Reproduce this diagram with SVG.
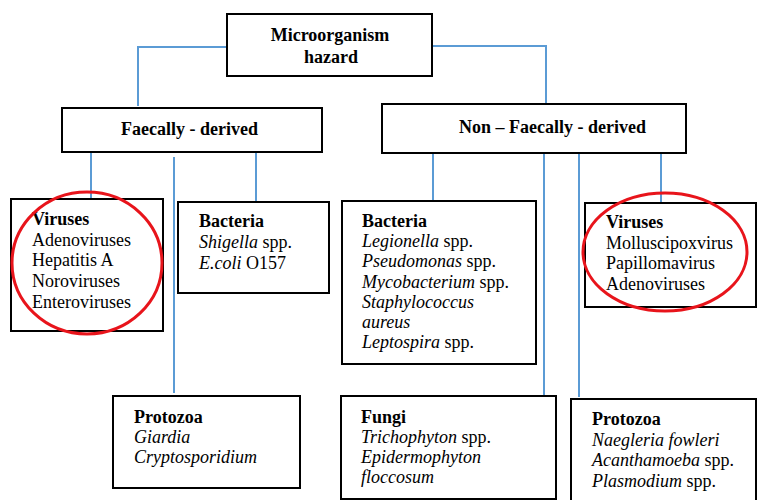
<svg xmlns="http://www.w3.org/2000/svg" width="757" height="500" viewBox="0 0 757 500">
<style>
.box{fill:#fff;stroke:#000;stroke-width:2}
.c{fill:none;stroke:#5B9BD5;stroke-width:2}
.t{font-family:"Liberation Serif","Times New Roman",serif;font-size:18px;fill:#000}
.b{font-weight:bold}
.i{font-style:italic}
.ring{fill:none;stroke:#E8141B;stroke-width:3}
</style>
<rect width="757" height="500" fill="#fff"/>
<g id="connectors">
<polyline class="c" points="227,47 138,47 138,106"/>
<polyline class="c" points="432,46 546,46 546,104"/>
<line class="c" x1="91" y1="153" x2="91" y2="199"/>
<line class="c" x1="174" y1="157" x2="174" y2="393"/>
<line class="c" x1="256" y1="153" x2="256" y2="202"/>
<line class="c" x1="433" y1="153" x2="433" y2="201"/>
<line class="c" x1="544" y1="151" x2="544" y2="396"/>
<line class="c" x1="579" y1="151" x2="579" y2="397"/>
<line class="c" x1="661" y1="153" x2="661" y2="203"/>
</g>
<g id="root">
<rect class="box" x="227" y="14" width="205" height="62"/>
<text class="t b" x="330" y="41" text-anchor="middle">Microorganism</text>
<text class="t b" x="331" y="63" text-anchor="middle">hazard</text>
</g>
<g id="faecal">
<rect class="box" x="62" y="108" width="260" height="44"/>
<text class="t b" x="121" y="135">Faecally - derived</text>
</g>
<g id="nonfaecal">
<rect class="box" x="382" y="104" width="304" height="49"/>
<text class="t b" x="459" y="133">Non – Faecally - derived</text>
</g>
<g id="viruses1">
<rect class="box" x="11" y="199" width="152" height="132"/>
<text class="t" x="32" y="225"><tspan class="b">Viruses</tspan><tspan x="32" dy="20.7">Adenoviruses</tspan><tspan x="32" dy="20.7">Hepatitis A</tspan><tspan x="32" dy="20.7">Noroviruses</tspan><tspan x="32" dy="20.7">Enteroviruses</tspan></text>
<ellipse class="ring" cx="87" cy="263" rx="75" ry="71"/>
</g>
<g id="bacteria1">
<rect class="box" x="178" y="202" width="151" height="91"/>
<text class="t" x="199" y="227"><tspan class="b">Bacteria</tspan><tspan x="199" dy="21"><tspan class="i">Shigella</tspan> spp.</tspan><tspan x="199" dy="21"><tspan class="i">E.coli</tspan> O157</tspan></text>
</g>
<g id="protozoa1">
<rect class="box" x="113" y="396" width="187" height="92"/>
<text class="t" x="134" y="423"><tspan class="b">Protozoa</tspan><tspan class="i" x="134" dy="20">Giardia</tspan><tspan class="i" x="134" dy="20">Cryptosporidium</tspan></text>
</g>
<g id="bacteria2">
<rect class="box" x="342" y="201" width="194" height="163"/>
<text class="t" x="362" y="227"><tspan class="b">Bacteria</tspan><tspan x="362" dy="20.2"><tspan class="i">Legionella</tspan> spp.</tspan><tspan x="362" dy="20.2"><tspan class="i">Pseudomonas</tspan> spp.</tspan><tspan x="362" dy="20.2"><tspan class="i">Mycobacterium</tspan> spp.</tspan><tspan class="i" x="362" dy="20.2">Staphylococcus</tspan><tspan class="i" x="362" dy="20.2">aureus</tspan><tspan x="362" dy="20.2"><tspan class="i">Leptospira</tspan> spp.</tspan></text>
</g>
<g id="viruses2">
<rect class="box" x="585" y="203" width="171" height="104"/>
<text class="t" x="606" y="228"><tspan class="b">Viruses</tspan><tspan x="606" dy="20.5">Molluscipoxvirus</tspan><tspan x="606" dy="20.5">Papillomavirus</tspan><tspan x="606" dy="20.5">Adenoviruses</tspan></text>
<ellipse class="ring" cx="665" cy="252" rx="82" ry="59"/>
</g>
<g id="fungi">
<rect class="box" x="341" y="396" width="215" height="103"/>
<text class="t" x="361" y="423"><tspan class="b">Fungi</tspan><tspan x="361" dy="20"><tspan class="i">Trichophyton</tspan> spp.</tspan><tspan class="i" x="361" dy="20">Epidermophyton</tspan><tspan class="i" x="361" dy="20">floccosum</tspan></text>
</g>
<g id="protozoa2">
<rect class="box" x="571" y="399" width="185" height="103"/>
<text class="t" x="592" y="425"><tspan class="b">Protozoa</tspan><tspan class="i" x="592" dy="20.7">Naegleria fowleri</tspan><tspan x="592" dy="20.7"><tspan class="i">Acanthamoeba</tspan> spp.</tspan><tspan x="592" dy="20.7"><tspan class="i">Plasmodium</tspan> spp.</tspan></text>
</g>
</svg>
